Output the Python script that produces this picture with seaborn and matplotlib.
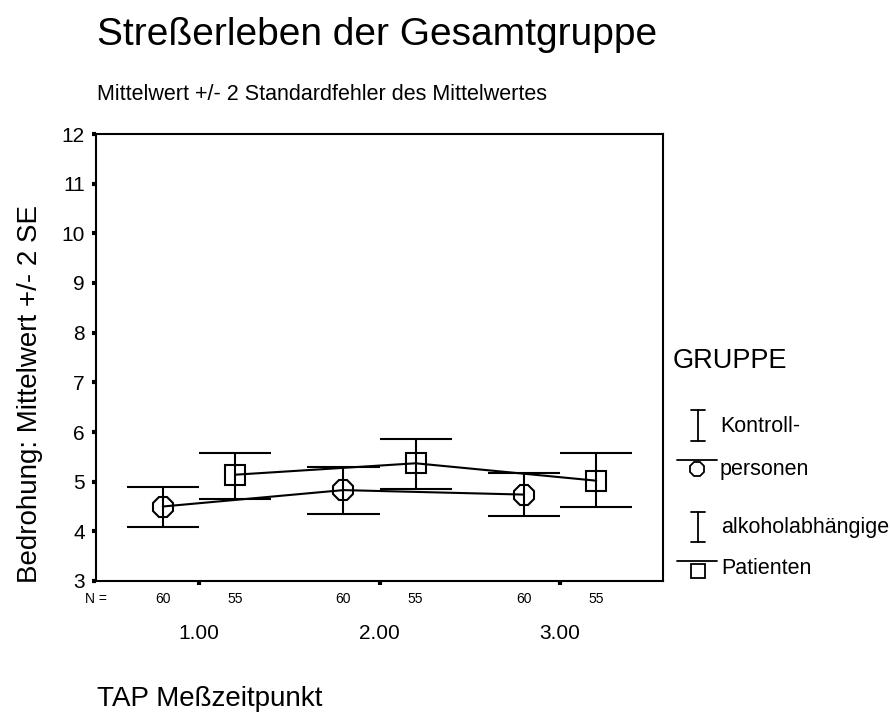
import numpy as np
import pandas as pd
import matplotlib
matplotlib.use("Agg")
import matplotlib.pyplot as plt
from matplotlib.lines import Line2D
from matplotlib import transforms
import seaborn as sns

# Measurement times and groups
zeitpunkte = ["1.00", "2.00", "3.00"]
gruppen = ["Kontrollpersonen", "alkoholabhängige Patienten"]

# Mean and +/- 2 SE limits per group
mittel_kontroll = [4.50, 4.83, 4.74]
unten_kontroll = [4.09, 4.34, 4.30]
oben_kontroll = [4.90, 5.30, 5.18]

mittel_patienten = [5.14, 5.37, 5.02]
unten_patienten = [4.66, 4.85, 4.50]
oben_patienten = [5.58, 5.86, 5.58]

n_kontroll = [60, 60, 60]
n_patienten = [55, 55, 55]

y_ticks = [3, 4, 5, 6, 7, 8, 9, 10, 11, 12]

df = pd.DataFrame({
    "Zeitpunkt": zeitpunkte * 2,
    "Gruppe": [gruppen[0]] * 3 + [gruppen[1]] * 3,
    "Mittelwert": mittel_kontroll + mittel_patienten,
})

sns.set_theme(style="white")
plt.rcParams["font.family"] = ["Liberation Sans", "DejaVu Sans"]
plt.rcParams["text.color"] = "black"
plt.rcParams["axes.labelcolor"] = "black"
plt.rcParams["xtick.color"] = "black"
plt.rcParams["ytick.color"] = "black"

W, H = 890, 713
fig = plt.figure(figsize=(W / 100, H / 100), dpi=100)

def fx(px):
    return px / W

def fy(py):
    return 1 - py / H

ax_left, ax_right, ax_top, ax_bottom = 96, 663, 134, 581
ax = fig.add_axes([fx(ax_left), fy(ax_bottom), fx(ax_right - ax_left),
                   (ax_bottom - ax_top) / H])

dodge = 0.4
sns.pointplot(data=df, x="Zeitpunkt", y="Mittelwert", hue="Gruppe",
              hue_order=gruppen, order=zeitpunkte, dodge=dodge,
              markers=["8", "s"], linestyles=["-", "-"],
              palette=["black", "black"], errorbar=None, legend=False,
              markersize=15, markerfacecolor="none",
              markeredgewidth=1.5, linewidth=1.5, ax=ax)

# Error bars with caps spanning half the dodge distance
half = dodge / 2
offsets = [-half, half]
base = np.arange(len(zeitpunkte))
for off, lo, hi in [(offsets[0], unten_kontroll, oben_kontroll),
                    (offsets[1], unten_patienten, oben_patienten)]:
    xs = base + off
    ax.vlines(xs, lo, hi, color="black", linewidth=1.5)
    ax.hlines(lo, xs - half, xs + half, color="black", linewidth=1.5)
    ax.hlines(hi, xs - half, xs + half, color="black", linewidth=1.5)

ax.set_xlim(-0.57, 2.57)
ax.set_ylim(3, 12)
ax.set_yticks(y_ticks)
ax.set_yticklabels([str(v) for v in y_ticks])
ax.set_xticks(base)
ax.set_xticklabels(zeitpunkte)
ax.set_xlabel("")
ax.set_ylabel("")
ax.tick_params(axis="both", which="major", direction="out", length=3,
               width=3, color="black", labelsize=15, labelcolor="black",
               left=True, bottom=True)
ax.tick_params(axis="y", pad=5)
ax.tick_params(axis="x", pad=28)
for s in ax.spines.values():
    s.set_visible(True)
    s.set_color("black")
    s.set_linewidth(1.5)

# Group sizes below the axis
blend = transforms.blended_transform_factory(ax.transData, fig.transFigure)
for off, ns in [(offsets[0], n_kontroll), (offsets[1], n_patienten)]:
    for x, n in zip(base + off, ns):
        ax.text(x, fy(599), str(n), transform=blend, ha="center",
                va="center", fontsize=10, color="black")
fig.text(fx(96), fy(599), "N =", ha="center", va="center", fontsize=10)

# Titles and axis labels
fig.text(fx(97), fy(35), "Streßerleben der Gesamtgruppe", ha="left",
         va="center", fontsize=28)
fig.text(fx(97), fy(95), "Mittelwert +/- 2 Standardfehler des Mittelwertes",
         ha="left", va="center", fontsize=15.5)
fig.text(fx(30), fy(394), "Bedrohung: Mittelwert +/- 2 SE", rotation=90,
         ha="center", va="center", fontsize=20)
fig.text(fx(97), fy(706), "TAP Meßzeitpunkt", ha="left", va="baseline",
         fontsize=20)

# Legend
fig.text(fx(673), fy(361), "GRUPPE", ha="left", va="center", fontsize=19.5)

def i_symbol(xc, y0, y1):
    fig.add_artist(Line2D([fx(xc), fx(xc)], [fy(y0), fy(y1)], color="black",
                          lw=1.3, transform=fig.transFigure))
    for yy in (y0, y1):
        fig.add_artist(Line2D([fx(xc - 7), fx(xc + 7)], [fy(yy), fy(yy)],
                              color="black", lw=1.3,
                              transform=fig.transFigure))

def mean_symbol(xc, yline, ymark, marker, ms):
    fig.add_artist(Line2D([fx(677), fx(717)], [fy(yline), fy(yline)],
                          color="black", lw=1.3, transform=fig.transFigure))
    fig.add_artist(Line2D([fx(xc)], [fy(ymark)], marker=marker, ms=ms,
                          mfc="none", mec="black", mew=1.3, ls="none",
                          transform=fig.transFigure))

i_symbol(698, 410, 441)
mean_symbol(697, 460, 469, "8", 11)
i_symbol(698, 512, 542)
mean_symbol(698, 561, 571, "s", 9.5)

fig.text(fx(720), fy(426), "Kontroll-", ha="left", va="center", fontsize=15.5)
fig.text(fx(720), fy(470), "personen", ha="left", va="center", fontsize=15.5)
fig.text(fx(721), fy(527), "alkoholabhängige", ha="left", va="center",
         fontsize=15.5)
fig.text(fx(721), fy(568), "Patienten", ha="left", va="center", fontsize=15.5)

fig.savefig("out.png", dpi=100, facecolor="white")
